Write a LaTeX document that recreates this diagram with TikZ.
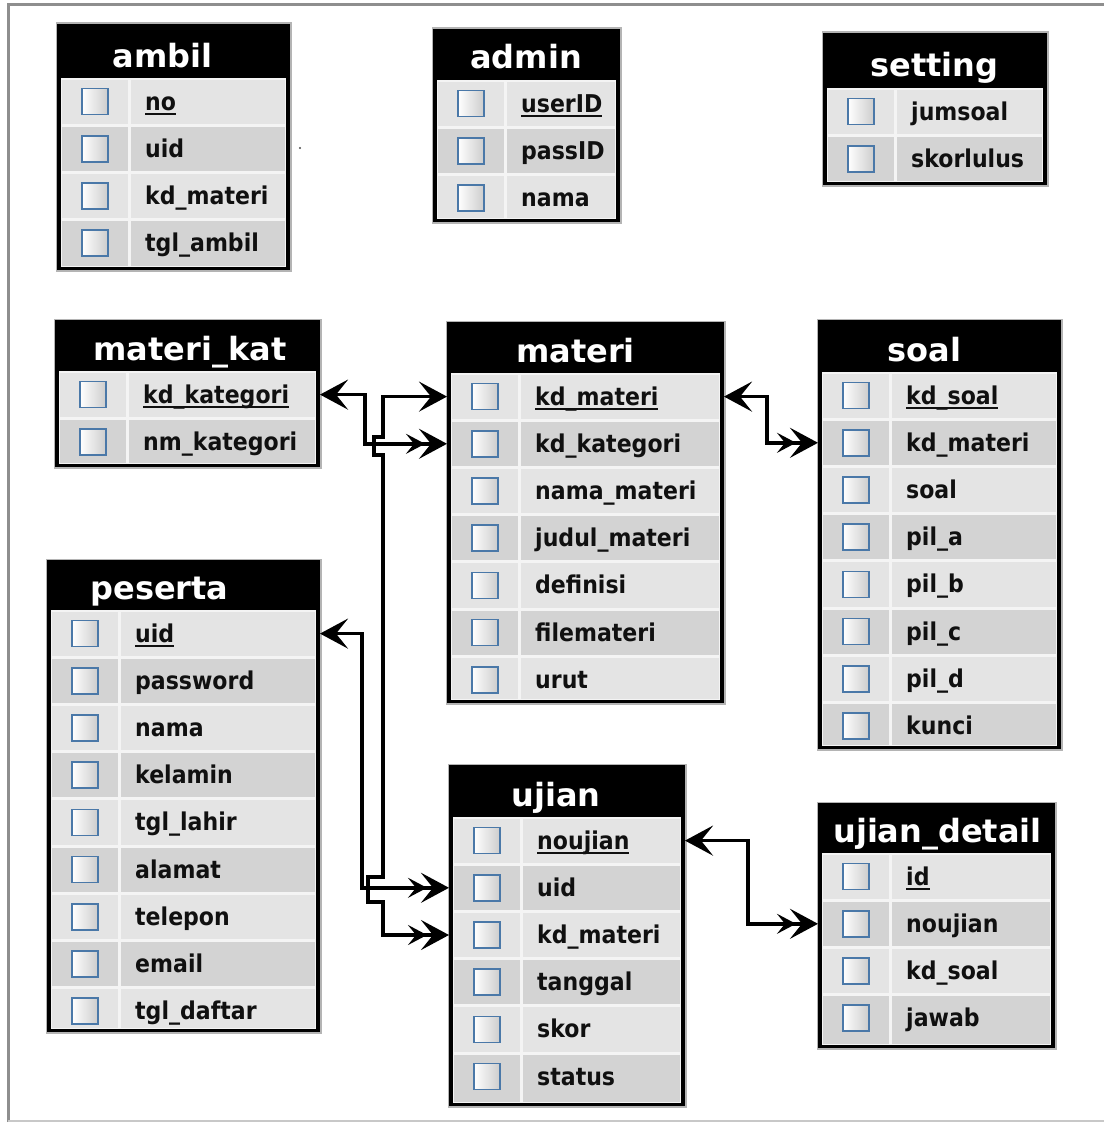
\documentclass[tikz,border=0pt]{standalone}
\usepackage{fontspec}
\usetikzlibrary{arrows.meta}
\newfontfamily\hdrfont{DejaVu Sans}
\newfontfamily\fldfont{DejaVu Sans}[FakeStretch=0.9]
\definecolor{rowA}{HTML}{E4E4E4}
\definecolor{rowB}{HTML}{D3D3D3}
\definecolor{sepc}{HTML}{F4F4F4}
\definecolor{cbblue}{HTML}{4A78A8}
\definecolor{txt}{HTML}{101010}
\definecolor{framec}{HTML}{8E8E8E}
\definecolor{framelt}{HTML}{C8C8C8}
\definecolor{shadowc}{HTML}{B4B4B4}
\newcommand\pk[1]{\setbox0\hbox{#1}\rlap{\rule[-4.5pt]{\wd0}{1.8pt}}\box0}
\def\erh{47.2}
\tikzset{
  tabtitle/.style={font=\hdrfont\bfseries\fontsize{32}{36}\selectfont, text=white, inner sep=0pt, anchor=base},
  field/.style={font=\fldfont\bfseries\fontsize{24.5}{28}\selectfont, text=txt, inner sep=0pt, anchor=base west},
  rowbox/.style={draw=none, inner sep=0pt, outer sep=0pt},
  cbox/.style={draw=cbblue, line width=1.5pt, left color=white, right color=black!20},
  conn/.style={line width=3.6pt, black,
    {Stealth[length=28pt 0,width=30pt 0,inset=12pt 0]}-{Stealth[length=19pt 0,width=20pt 0,inset=8pt 0,sep=-6pt 0]Stealth[length=28pt 0,width=30pt 0,inset=12pt 0]}}
}
\newcommand\ertable[9]{%
  \foreach \f [count=\n] in {#9} {\xdef\ern{\n}}%
  \fill[shadowc] (#4-1.5,#6-1.5) rectangle (#5+1.5,#8+1.5);
  \fill[black] (#4,#6) rectangle (#5,#8);
  \fill[sepc] (#4+4,#7) rectangle (#5-4,#8-3);
  \node[tabtitle] (#1) at (#3,#7-11) {#2};
  \pgfmathsetmacro\rw{#5-#4}%
  \pgfmathsetmacro\rmx{(#4+#5)/2}%
  \foreach \f [count=\i] in {#9} {
    \pgfmathsetmacro\rtop{#7+(\i-1)*\erh}
    \pgfmathsetmacro\rbot{(\i==\ern) ? (#8-3) : (#7+\i*\erh)}
    \pgfmathsetmacro\cy{#7+(\i-0.5)*\erh}
    \ifodd\i \def\rc{rowA}\else\def\rc{rowB}\fi
    \fill[\rc] (#4+5,\rtop+1.5) rectangle (#4+71,\rbot-1.5);
    \fill[\rc] (#4+74,\rtop+1.5) rectangle (#5-5,\rbot-1.5);
    \draw[cbox] (#4+38-13,\cy-13) rectangle (#4+38+13,\cy+13);
    \node[rowbox, minimum width=\rw pt, minimum height=\erh pt] (#1-\i) at (\rmx,\cy) {};
    \node[field] (#1-\i-f) at (#4+88,\cy+8.5) {\f};
  }
}
\begin{document}
\begin{tikzpicture}[x=1pt,y=-1pt]
\fill[white] (0,0) rectangle (1104,1124);
\useasboundingbox (0,0) rectangle (1104,1124);
% frame
\draw[framec, line width=3pt] (8,1122) -- (8,5) -- (1104,5);
\draw[framelt, line width=2pt] (8,1121) -- (1104,1121);

\ertable{ambil}{ambil}{162.5}{57}{290}{24}{78}{270}{\pk{no},uid,kd\_materi,tgl\_ambil}
\ertable{admin}{admin}{526}{433}{620}{29}{80}{222}{\pk{userID},passID,nama}
\ertable{setting}{setting}{934.5}{823}{1047}{33}{88}{185}{jumsoal,skorlulus}
\ertable{mkat}{materi\_kat}{190}{55}{320}{320}{371}{467}{\pk{kd\_kategori},nm\_kategori}
\ertable{materi}{materi}{575.5}{447}{724}{322}{373}{703}{\pk{kd\_materi},kd\_kategori,nama\_materi,judul\_materi,definisi,filemateri,urut}
\ertable{soal}{soal}{924.5}{818}{1061}{320}{372}{749}{\pk{kd\_soal},kd\_materi,soal,pil\_a,pil\_b,pil\_c,pil\_d,kunci}
\ertable{peserta}{peserta}{159.5}{47}{320}{560}{610}{1032}{\pk{uid},password,nama,kelamin,tgl\_lahir,alamat,telepon,email,tgl\_daftar}
\ertable{ujian}{ujian}{556}{449}{685}{765}{817}{1106}{\pk{noujian},uid,kd\_materi,tanggal,skor,status}
\ertable{udet}{ujian\_detail}{937.5}{818}{1055}{803}{853}{1048}{\pk{id},noujian,kd\_soal,jawab}

\fill[black!70] (300,148) circle (1.2);

% connectors
\draw[conn] (mkat-1.east) -- ++(45,0) |- (materi-2.west);
\draw[conn] (materi-1.west) -| (383,437) -- (374,437) -- (374,455) -- (383,455)
   -- (383,877) -- (368,877) -- (368,902) -- (383,902) |- (ujian-3.west);
\draw[conn] (peserta-1.east) -- ++(42,0) |- (ujian-2.west);
\draw[conn] (materi-1.east) -- ++(43,0) |- (soal-2.west);
\draw[conn] (ujian-1.east) -- ++(63,0) |- (udet-2.west);
\end{tikzpicture}
\end{document}
